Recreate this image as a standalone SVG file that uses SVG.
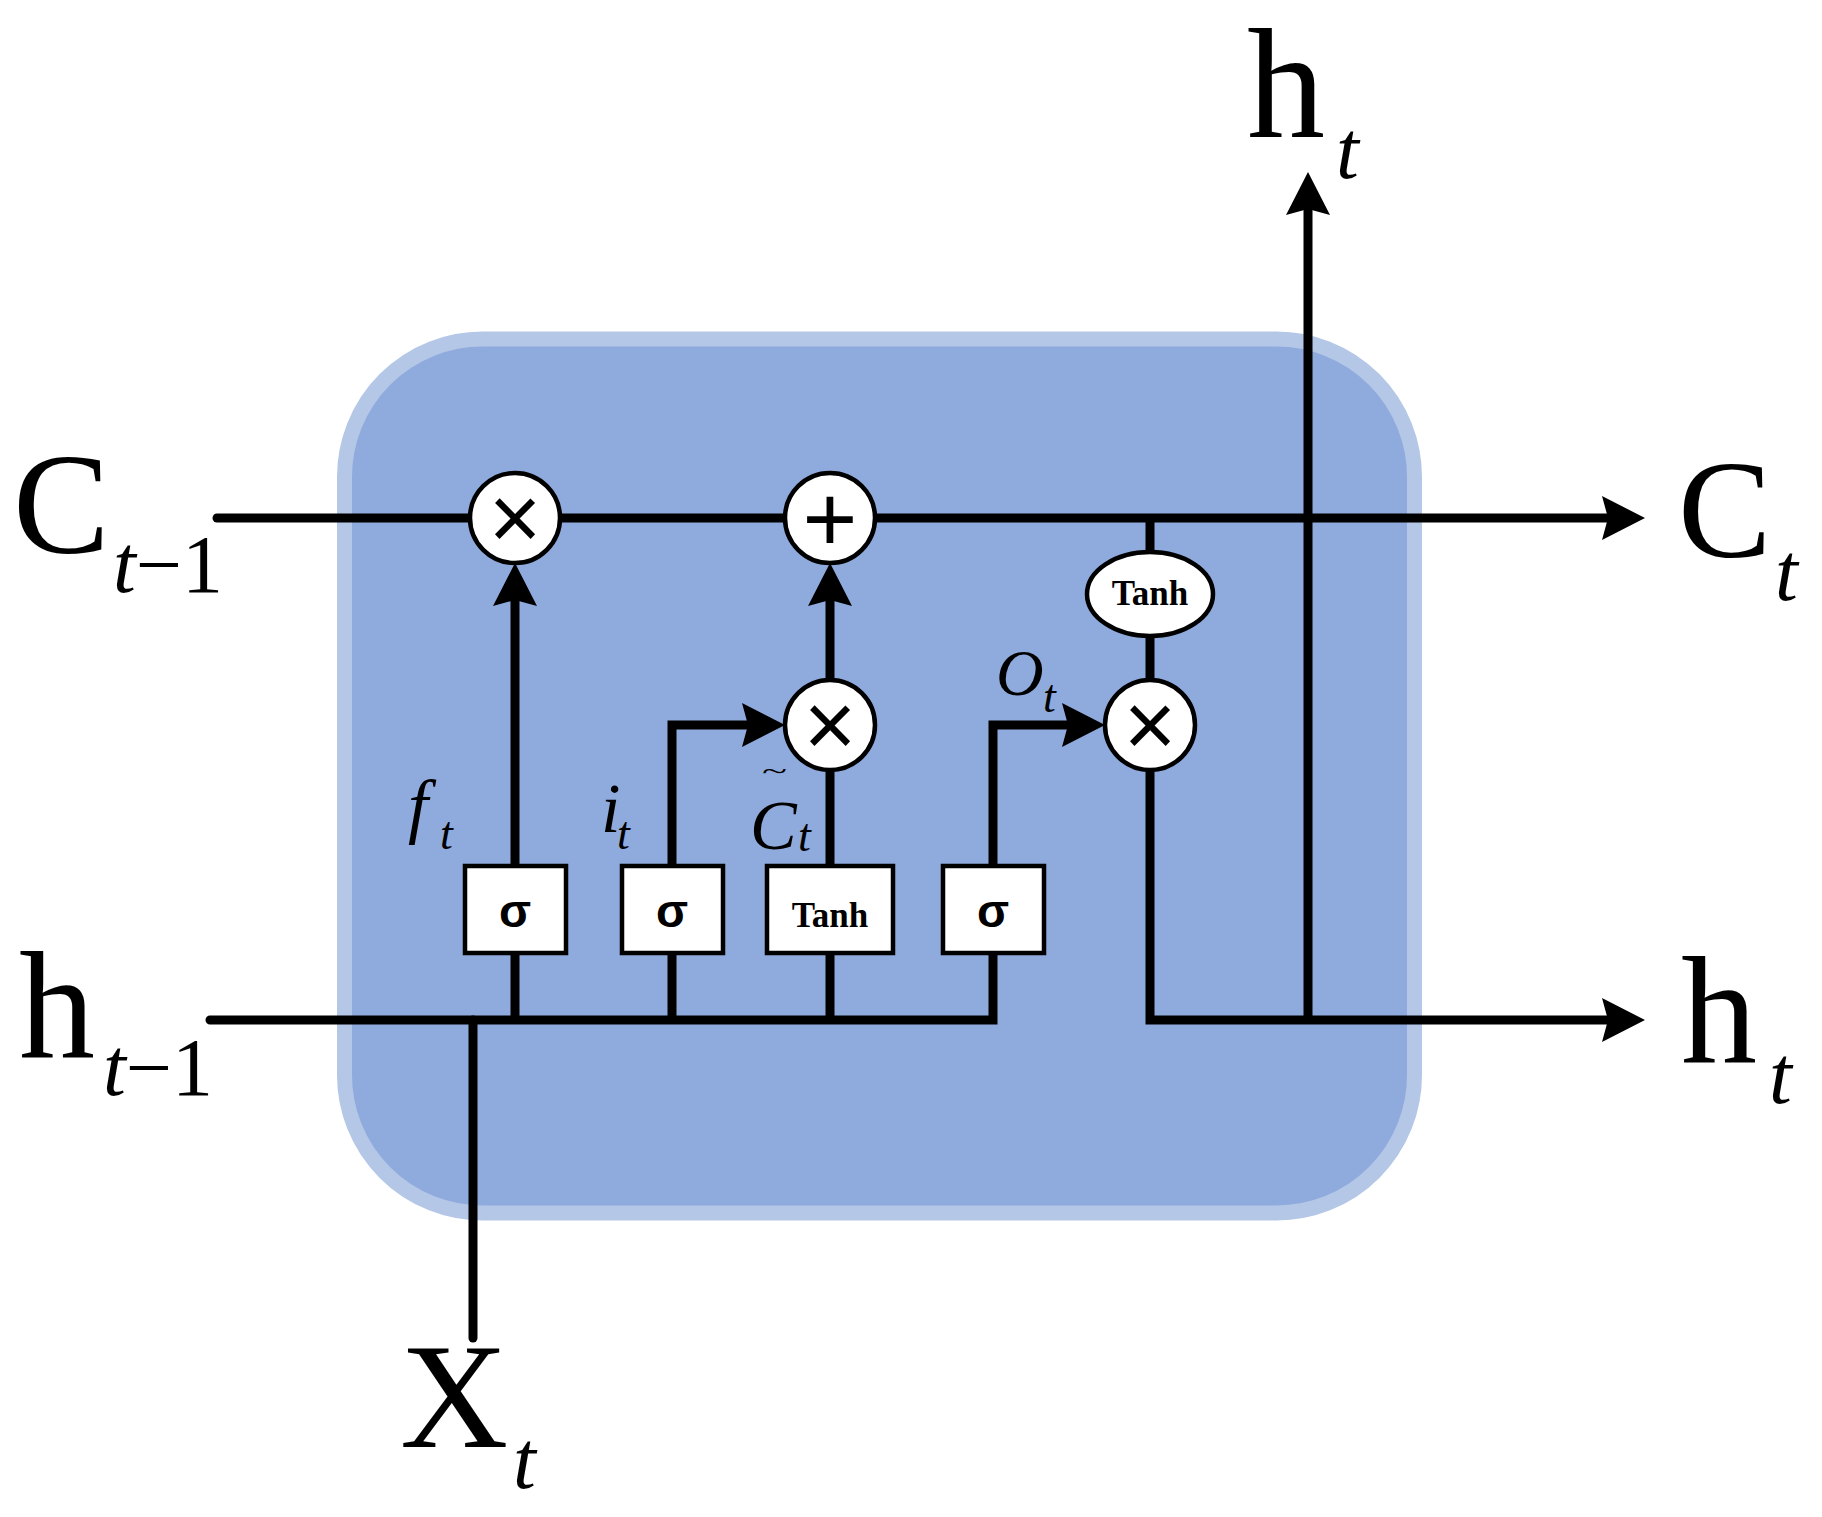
<svg xmlns="http://www.w3.org/2000/svg" width="1822" height="1517" viewBox="0 0 1822 1517">
<style>
.ln{fill:none;stroke:#000;stroke-width:9;stroke-linejoin:miter;stroke-miterlimit:10}
.rc{stroke-linecap:round}
.op{fill:#fff;stroke:#000;stroke-width:4.5}
.sym{font-family:"Liberation Sans",Arial,sans-serif;fill:#000;text-anchor:middle}
.sig{font-family:"Liberation Sans",Arial,sans-serif;font-weight:bold;font-size:47px;fill:#000;text-anchor:middle}
.tanh{font-family:"Liberation Serif","Times New Roman",serif;font-weight:bold;font-size:35px;fill:#000;text-anchor:middle}
.big{font-family:"Liberation Serif","Times New Roman",serif;fill:#000}
.it{font-style:italic}
</style>
<defs>
<marker id="arr" markerUnits="userSpaceOnUse" markerWidth="60" markerHeight="60" refX="0" refY="0" orient="auto" overflow="visible">
<path d="M32,0 L-11,-22 L-5,0 L-11,22 Z" fill="#000"/>
</marker>
</defs>
<rect id="cell" x="344.5" y="339" width="1070" height="874" rx="138" ry="138" fill="#8FAADC" stroke="#B4C7E7" stroke-width="15"/>
<g id="connectors">
<path class="ln rc" d="M217,518 H1613" marker-end="url(#arr)"/>
<path class="ln rc" d="M210,1020 H993 V725 H1073" marker-end="url(#arr)"/>
<path class="ln rc" d="M473,1020 V1338"/>
<path class="ln" d="M515,1020 V595" marker-end="url(#arr)"/>
<path class="ln" d="M672,1020 V725 H753" marker-end="url(#arr)"/>
<path class="ln" d="M830,1020 V770"/>
<path class="ln" d="M830,680 V595" marker-end="url(#arr)"/>
<path class="ln" d="M1150,518 V680"/>
<path class="ln" d="M1150,770 V1020 H1613" marker-end="url(#arr)"/>
<path class="ln" d="M1308,1020 V204" marker-end="url(#arr)"/>
</g>
<g id="mul_f"><circle class="op" cx="515" cy="518" r="45"/><text class="sym" x="515" y="549" font-size="90">×</text></g>
<g id="add_c"><circle class="op" cx="830" cy="518" r="45"/><text class="sym" x="830" y="551" font-size="94">+</text></g>
<g id="mul_i"><circle class="op" cx="830" cy="725" r="45"/><text class="sym" x="830" y="756" font-size="90">×</text></g>
<g id="mul_o"><circle class="op" cx="1150" cy="725" r="45"/><text class="sym" x="1150" y="756" font-size="90">×</text></g>
<g id="tanh_c"><ellipse class="op" cx="1150" cy="594" rx="63" ry="42"/><text class="tanh" x="1150" y="605">Tanh</text></g>
<g id="sigma_f"><rect class="op" x="465" y="866" width="101" height="87"/><text class="sig" x="515" y="927">σ</text></g>
<g id="sigma_i"><rect class="op" x="622" y="866" width="101" height="87"/><text class="sig" x="672" y="927">σ</text></g>
<g id="tanh_g"><rect class="op" x="767" y="866" width="126" height="87"/><text class="tanh" x="830" y="927">Tanh</text></g>
<g id="sigma_o"><rect class="op" x="943" y="866" width="101" height="87"/><text class="sig" x="993" y="927">σ</text></g>
<g id="labels">
<text class="big" x="13" y="553" font-size="145">C</text>
<text class="big" x="113" y="592" font-size="82"><tspan class="it">t</tspan>−1</text>
<text class="big" x="19" y="1057" font-size="152">h</text>
<text class="big" x="103" y="1095" font-size="82"><tspan class="it">t</tspan>−1</text>
<text class="big" x="1678" y="557" font-size="140">C</text>
<text class="big it" x="1775" y="600" font-size="82">t</text>
<text class="big" x="1247" y="137" font-size="156">h</text>
<text class="big it" x="1336" y="178" font-size="82">t</text>
<text class="big" x="1681" y="1062" font-size="152">h</text>
<text class="big it" x="1769" y="1103" font-size="82">t</text>
<text class="big" x="400" y="1447" font-size="150">X</text>
<text class="big it" x="513" y="1488" font-size="82">t</text>
<text class="big it" x="408" y="830" font-size="72">f</text>
<text class="big it" x="440" y="849" font-size="46">t</text>
<text class="big it" x="601" y="832" font-size="70">i</text>
<text class="big it" x="617" y="849" font-size="46">t</text>
<text class="big" x="762" y="780" font-size="28" textLength="25" lengthAdjust="spacingAndGlyphs">~</text>
<text class="big it" x="750" y="849" font-size="70">C</text>
<text class="big it" x="798" y="851" font-size="46">t</text>
<text class="big it" x="996" y="695" font-size="66">O</text>
<text class="big it" x="1043" y="712" font-size="46">t</text>
</g>
</svg>
